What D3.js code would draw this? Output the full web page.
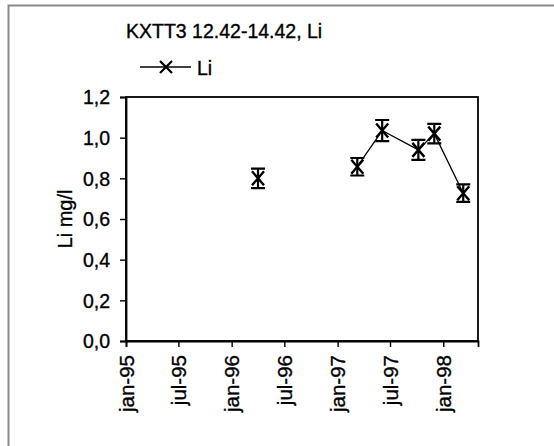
<!DOCTYPE html>
<html><head><meta charset="utf-8">
<script src="https://cdn.jsdelivr.net/npm/d3@7"></script>
<style>body{margin:0;background:#fff}svg{display:block}text{font-family:"Liberation Sans",Arial,sans-serif;fill:#000;stroke:#000;stroke-width:0.35px}</style>
</head><body>
<script>
const title = "KXTT3 12.42-14.42, Li";
const seriesName = "Li";
const yLabel = "Li mg/l";
const dates = ["1996-04-01","1997-03-10","1997-06-04","1997-10-07","1997-12-01","1998-03-11"];
const values = [0.80, 0.857, 1.035, 0.94, 1.02, 0.727];
const errors = [0.048, 0.043, 0.052, 0.049, 0.048, 0.043];
const connected = [false, true, true, true, true, true];
const xTickDates = ["1995-01-01","1995-07-01","1996-01-01","1996-07-01","1997-01-01","1997-07-01","1998-01-01"];
const xTickLabels = ["jan-95","jul-95","jan-96","jul-96","jan-97","jul-97","jan-98"];
const yTicks = [0,0.2,0.4,0.6,0.8,1.0,1.2];

const W=554,H=446;
const svg=d3.select("body").append("svg").attr("width",W).attr("height",H);
const parse=d3.utcParse("%Y-%m-%d");
const x=d3.scaleUtc().domain([parse("1995-01-01"),parse("1998-05-01")]).range([126,478]);
const y=d3.scaleLinear().domain([0,1.2]).range([341,97]);

// outer frame (left & top)
svg.append("path").attr("d",`M8.5,${H}V5.5H${W}`).attr("fill","none").attr("stroke","#8a8a8a").attr("stroke-width",2);

// title
svg.append("text").attr("x",126).attr("y",38).attr("font-size",19.5).text(title);

// legend
const lg=svg.append("g");
lg.append("line").attr("x1",140).attr("x2",191).attr("y1",67).attr("y2",67).attr("stroke","#000").attr("stroke-width",1.3);
lg.append("path").attr("d","M160,61L172,73M172,61L160,73").attr("stroke","#000").attr("stroke-width",2.2);
lg.append("text").attr("x",197).attr("y",75).attr("font-size",19.5).text(seriesName);

// plot box
svg.append("rect").attr("x",126).attr("y",97).attr("width",352).attr("height",244).attr("fill","none").attr("stroke","#000").attr("stroke-width",1.8);

// y axis
const ya=svg.append("g").attr("transform","translate(126,0)")
  .call(d3.axisLeft(y).tickValues(yTicks).tickSize(6).tickFormat(d=>d3.format(".1f")(d).replace(".",",")));
ya.select(".domain").attr("stroke-width",1.8);
ya.selectAll("line").attr("stroke-width",1.4);
ya.selectAll("text").attr("font-size",19.5).attr("font-family","Liberation Sans, Arial, sans-serif").attr("x",-16).attr("dy","0.35em");

// x axis
const xa=svg.append("g").attr("transform","translate(0,341)")
  .call(d3.axisBottom(x).tickValues(xTickDates.map(parse)).tickSize(6).tickFormat((d,i)=>xTickLabels[i]));
xa.select(".domain").attr("stroke-width",1.8);
xa.selectAll("line").attr("stroke-width",1.4);
xa.selectAll("text").attr("font-size",20.5).attr("font-family","Liberation Sans, Arial, sans-serif")
  .attr("transform","rotate(-90)").attr("text-anchor","end").attr("x",-14).attr("y",0).attr("dy","0.35em");

// y label
svg.append("text").attr("transform","translate(72,219) rotate(-90)").attr("text-anchor","middle").attr("font-size",20).text(yLabel);

const data=dates.map((d,i)=>({d:parse(d),v:values[i],e:errors[i],c:connected[i]}));

// line
const line=d3.line().defined(d=>d.c).x(d=>x(d.d)).y(d=>y(d.v));
svg.append("path").attr("d",line(data)).attr("fill","none").attr("stroke","#000").attr("stroke-width",1.3);

// error bars & markers
const g=svg.append("g").selectAll("g").data(data).join("g");
g.append("path").attr("d",d=>{
  const cx=x(d.d), t=y(d.v+d.e), b=y(d.v-d.e);
  return `M${cx},${t}V${b}M${cx-7},${t}H${cx+7}M${cx-7},${b}H${cx+7}`;
}).attr("stroke","#000").attr("stroke-width",2.2).attr("fill","none");
g.append("path").attr("d",d=>{
  const cx=x(d.d), cy=y(d.v);
  return `M${cx-6},${cy-7}L${cx+6},${cy+7}M${cx+6},${cy-7}L${cx-6},${cy+7}`;
}).attr("stroke","#000").attr("stroke-width",2.4).attr("fill","none");
</script>
</body></html>
